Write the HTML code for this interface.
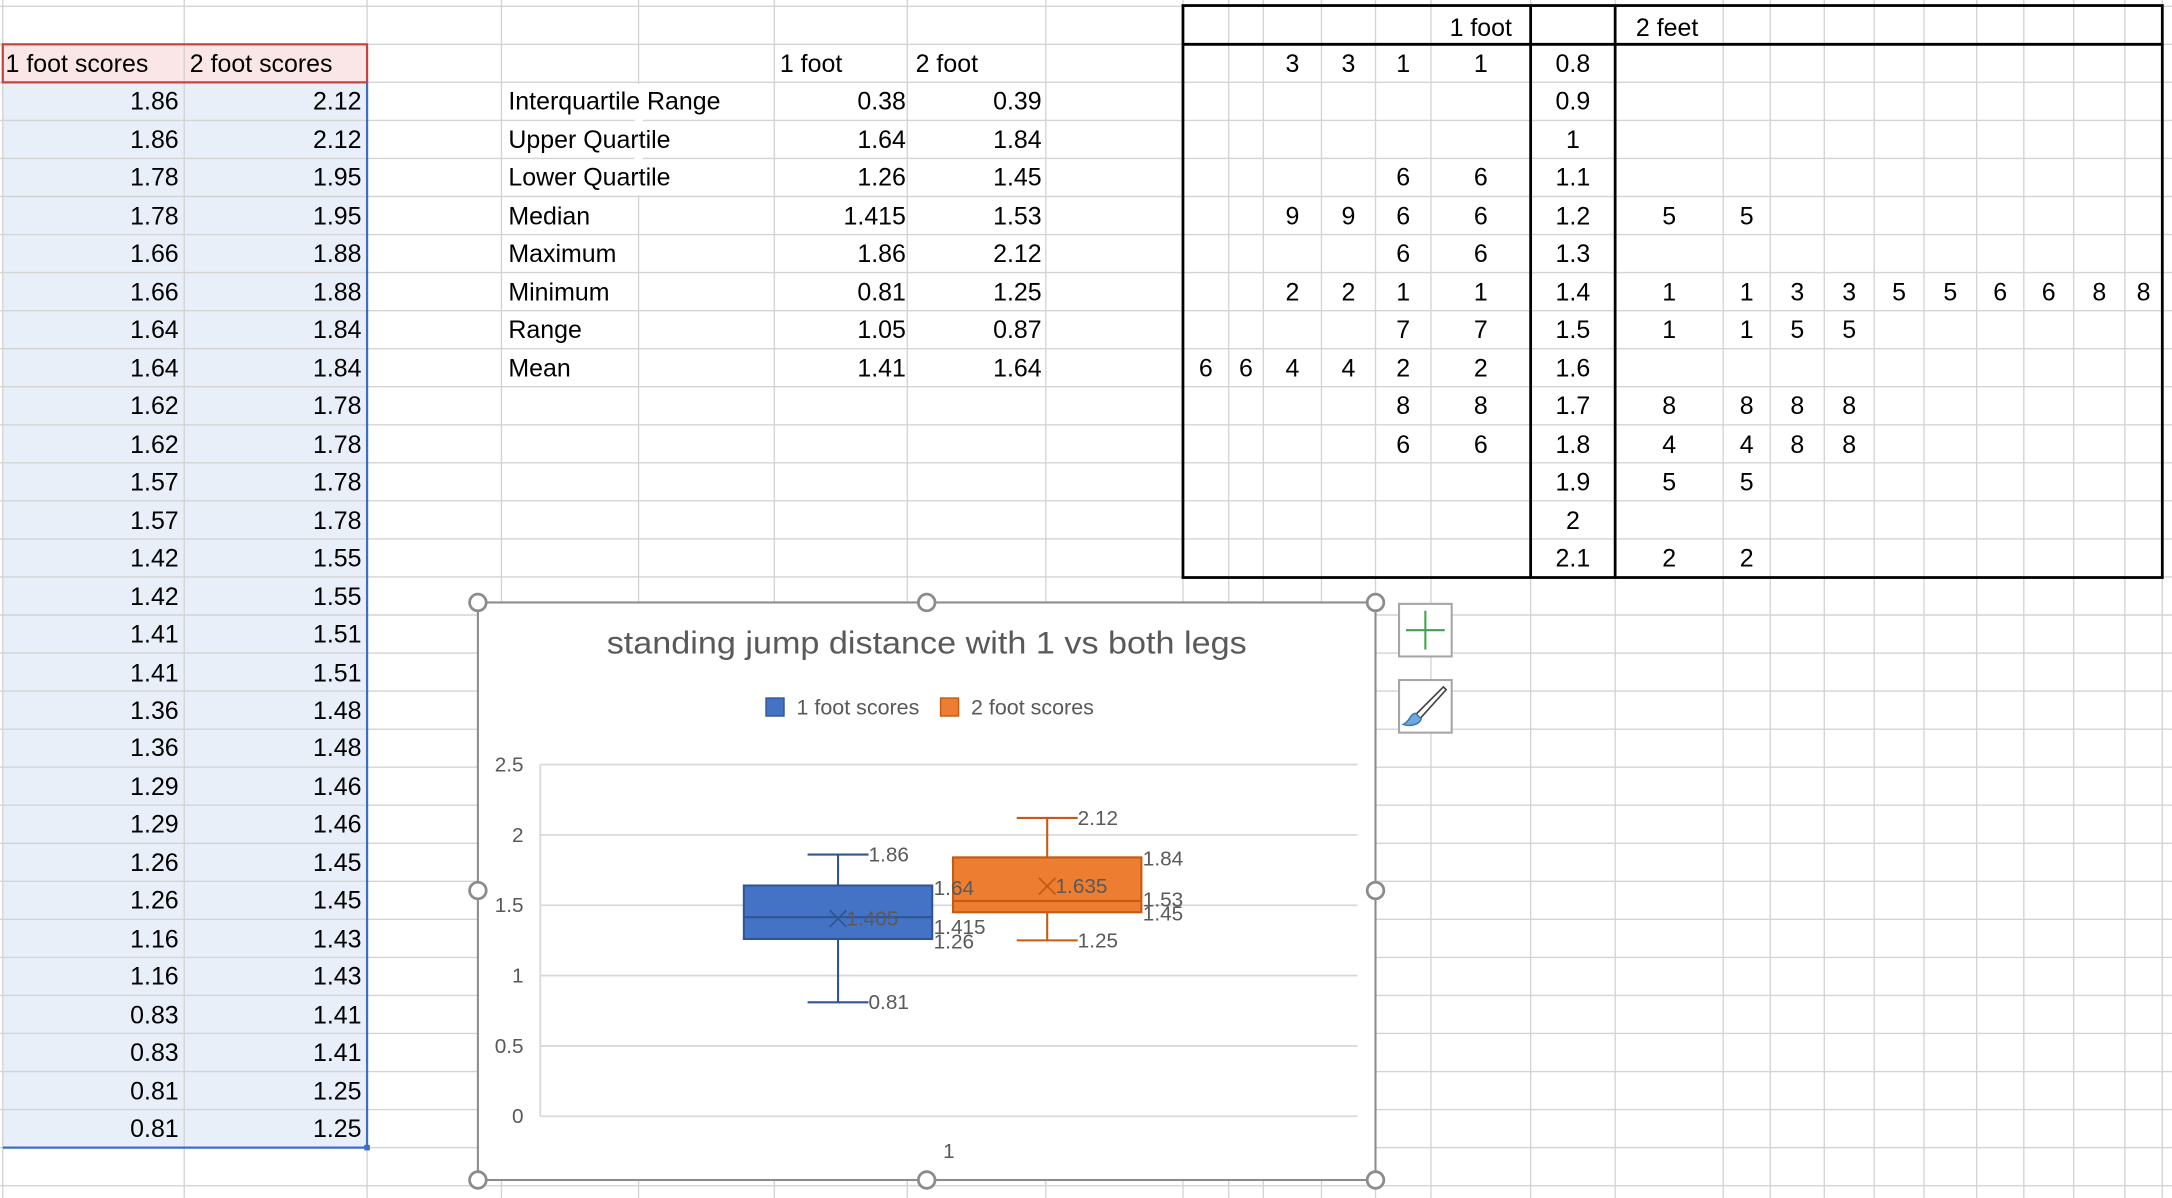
<!DOCTYPE html>
<html><head><meta charset="utf-8">
<style>
html,body{margin:0;padding:0;background:#fff;overflow:hidden;width:2172px;height:1198px}
#stage{position:absolute;left:0;top:0;width:1568px;height:865px;transform-origin:0 0;transform:scale(1.38520,1.38497);font-family:"Liberation Sans",sans-serif;font-size:18px;color:#000}
.t{position:absolute;white-space:nowrap;line-height:27px;height:27px}
.r{text-align:right}
.c{text-align:center}
svg text{font-family:"Liberation Sans",sans-serif}
</style></head>
<body>
<div id="stage">
<svg id="grid" width="1568" height="865" style="position:absolute;left:0;top:0"></svg>
<div id="cells"></div>
<svg id="chart" width="1568" height="865" style="position:absolute;left:0;top:0"></svg>
</div>
<script>
// ---- spreadsheet data ----
const oneFoot=[1.86,1.86,1.78,1.78,1.66,1.66,1.64,1.64,1.62,1.62,1.57,1.57,1.42,1.42,1.41,1.41,1.36,1.36,1.29,1.29,1.26,1.26,1.16,1.16,0.83,0.83,0.81,0.81];
const twoFoot=[2.12,2.12,1.95,1.95,1.88,1.88,1.84,1.84,1.78,1.78,1.78,1.78,1.55,1.55,1.51,1.51,1.48,1.48,1.46,1.46,1.45,1.45,1.43,1.43,1.41,1.41,1.25,1.25];
const statNames=["Interquartile Range","Upper Quartile","Lower Quartile","Median","Maximum","Minimum","Range","Mean"];
const stat1=["0.38","1.64","1.26","1.415","1.86","0.81","1.05","1.41"];
const stat2=["0.39","1.84","1.45","1.53","2.12","1.25","0.87","1.64"];
const stems=["0.8","0.9","1","1.1","1.2","1.3","1.4","1.5","1.6","1.7","1.8","1.9","2","2.1"];
const leaves1=[["","","3","3","1","1"],[],[],["","","","","6","6"],["","","9","9","6","6"],["","","","","6","6"],["","","2","2","1","1"],["","","","","7","7"],["6","6","4","4","2","2"],["","","","","8","8"],["","","","","6","6"],[],[],[]];
const leaves2=[[],[],[],[],["5","5"],[],["1","1","3","3","5","5","6","6","8","8"],["1","1","5","5"],[],["8","8","8","8"],["4","4","8","8"],["5","5"],[],["2","2"]];

const NS="http://www.w3.org/2000/svg";
const colX=[2,133,265,362,461,559,655,755,854,887,912,954,993,1033,1105,1166,1244,1278,1317,1353,1389,1427,1461,1497,1534,1561];
const rowH=27.47, row0=32;
function rowTop(k){return row0+rowH*k;}
const grid=document.getElementById('grid');
function sv(p,tag,a){const e=document.createElementNS(NS,tag);for(const k in a)e.setAttribute(k,a[k]);p.appendChild(e);return e;}
sv(grid,'rect',{x:2,y:rowTop(0),width:263,height:rowH,fill:'#FBE6E7'});
sv(grid,'rect',{x:2,y:rowTop(1),width:263,height:rowH*28,fill:'#E8EFF9'});
for(let k=-1;k<31;k++){const y=rowTop(k);sv(grid,'line',{x1:0,x2:1568,y1:y,y2:y,stroke:'#d4d4d4','stroke-width':1});}
colX.forEach(x=>sv(grid,'line',{x1:x,x2:x,y1:0,y2:865,stroke:'#d4d4d4','stroke-width':1}));
sv(grid,'rect',{x:458,y:rowTop(1)+1,width:6,height:rowH*3-2,fill:'#fff'});
sv(grid,'rect',{x:2,y:rowTop(0),width:263,height:rowH,fill:'none',stroke:'#C8423F','stroke-width':1.6});
sv(grid,'polyline',{points:`265,${rowTop(1)} 265,${rowTop(29)} 2,${rowTop(29)}`,fill:'none',stroke:'#3B6FC4','stroke-width':1.6});
sv(grid,'rect',{x:263,y:rowTop(29)-2,width:4,height:4,fill:'#3B6FC4'});
sv(grid,'rect',{x:854,y:4,width:707,height:413,fill:'none',stroke:'#000','stroke-width':2});
sv(grid,'line',{x1:854,x2:1561,y1:rowTop(0),y2:rowTop(0),stroke:'#000','stroke-width':2});
sv(grid,'line',{x1:1105,x2:1105,y1:4,y2:417,stroke:'#000','stroke-width':2});
sv(grid,'line',{x1:1166,x2:1166,y1:4,y2:417,stroke:'#000','stroke-width':2});

const cells=document.getElementById('cells');
function cell(txt,x,y,w,cls,name){const d=document.createElement('div');d.className='t '+cls;d.style.left=x+'px';d.style.top=(y+1)+'px';d.style.width=w+'px';d.textContent=txt;


cells.appendChild(d);}
cell('1 foot scores',4,rowTop(0),130,'', 'header-1-foot-scores');
cell('2 foot scores',137,rowTop(0),128,'', 'header-2-foot-scores');
oneFoot.forEach((v,i)=>cell(v.toFixed(2),2,rowTop(i+1),127,'r','one-foot-score-cell'));
twoFoot.forEach((v,i)=>cell(v.toFixed(2),133,rowTop(i+1),128,'r','two-foot-score-cell'));
cell('1 foot',563,rowTop(0),90,'','stats-header-1-foot');
cell('2 foot',661,rowTop(0),90,'','stats-header-2-foot');
statNames.forEach((n,i)=>{cell(n,367,rowTop(i+1),190,'','stat-label');cell(stat1[i],559,rowTop(i+1),95,'r','stat-1-foot-value');cell(stat2[i],655,rowTop(i+1),97,'r','stat-2-foot-value');});
cell('1 foot',1033,rowTop(-1)+1,72,'c','stem-header-1-foot');
cell('2 feet',1181,rowTop(-1)+1,80,'','stem-header-2-feet');
const lcols=[854,887,912,954,993,1033,1105];
const rcols=[1166,1244,1278,1317,1353,1389,1427,1461,1497,1534,1561];
stems.forEach((s,i)=>{
  cell(s,1105,rowTop(i),61,'c','stem-value');
  leaves1[i].forEach((l,j)=>{if(l)cell(l,lcols[j],rowTop(i),lcols[j+1]-lcols[j],'c','leaf-1-foot');});
  leaves2[i].forEach((l,j)=>{if(l)cell(l,rcols[j],rowTop(i),rcols[j+1]-rcols[j],'c','leaf-2-feet');});
});

// ---- chart data ----
const seriesNames=["1 foot scores","2 foot scores"];
const seriesColors=["#4472C4","#ED7D31"];
const seriesStroke=["#2F5597","#C55A11"];
const minVals=[0.81,1.25];
const q1Vals=[1.26,1.45];
const medVals=[1.415,1.53];
const q3Vals=[1.64,1.84];
const maxVals=[1.86,2.12];
const meanVals=[1.405,1.635];
const yTicks=[0,0.5,1,1.5,2,2.5];
const yTickLabels=["0","0.5","1","1.5","2","2.5"];
const category="1";

const ch=document.getElementById('chart');
const PX0=390,PX1=980,PY0=806,PY1=552,YMAX=2.5;
function y(v){return PY0-(v/YMAX)*(PY0-PY1);}
function txt(p,s,x,yy,a){const t=sv(p,'text',Object.assign({x:x,y:yy,fill:'#595959','font-size':15},a||{}));t.textContent=s;return t;}
const frame=sv(ch,'rect',{x:345,y:435,width:648,height:417,fill:'#fff',stroke:'#8c8c8c','stroke-width':1.5});


const title=txt(ch,'standing jump distance with 1 vs both legs',669,472,{'font-size':23,'text-anchor':'middle',textLength:462,lengthAdjust:'spacingAndGlyphs'});


const legX=[553,679];
seriesNames.forEach((n,i)=>{
  const g=sv(ch,'g',{});
  
  
  sv(g,'rect',{x:legX[i],y:504,width:13,height:13,fill:seriesColors[i],stroke:seriesStroke[i],'stroke-width':1});
  txt(g,n,legX[i]+22,516,{'font-size':15.5});
});
yTicks.forEach((v,i)=>{
  const l=sv(ch,'line',{x1:PX0,x2:PX1,y1:y(v),y2:y(v),stroke:'#d9d9d9','stroke-width':1.3});
  
  
  const t=txt(ch,yTickLabels[i],378,y(v)+5,{'text-anchor':'end'});
  
  
});
sv(ch,'line',{x1:PX0,x2:PX0,y1:PY1,y2:PY0,stroke:'#d9d9d9','stroke-width':1.3});
const cat=txt(ch,category,685,836,{'text-anchor':'middle'});


const boxL=[537,688], boxW=136;
const labelLayer=[];
seriesNames.forEach((n,i)=>{
  const g=sv(ch,'g',{});
  
  
  const cx=boxL[i]+boxW/2, st=seriesStroke[i];
  sv(g,'line',{x1:cx,x2:cx,y1:y(maxVals[i]),y2:y(q3Vals[i]),stroke:st,'stroke-width':1.5});
  sv(g,'line',{x1:cx,x2:cx,y1:y(q1Vals[i]),y2:y(minVals[i]),stroke:st,'stroke-width':1.5});
  sv(g,'line',{x1:cx-22,x2:cx+22,y1:y(maxVals[i]),y2:y(maxVals[i]),stroke:st,'stroke-width':1.5});
  sv(g,'line',{x1:cx-22,x2:cx+22,y1:y(minVals[i]),y2:y(minVals[i]),stroke:st,'stroke-width':1.5});
  sv(g,'rect',{x:boxL[i],y:y(q3Vals[i]),width:boxW,height:y(q1Vals[i])-y(q3Vals[i]),fill:seriesColors[i],stroke:st,'stroke-width':1.5});
  sv(g,'line',{x1:boxL[i],x2:boxL[i]+boxW,y1:y(medVals[i]),y2:y(medVals[i]),stroke:st,'stroke-width':1.5});
  const my=y(meanVals[i]);
  sv(g,'path',{d:`M${cx-6} ${my-6}L${cx+6} ${my+6}M${cx+6} ${my-6}L${cx-6} ${my+6}`,stroke:st,'stroke-width':1.3,fill:'none'});
  labelLayer.push(i);
});
const lg=sv(ch,'g',{});


labelLayer.forEach(i=>{
  const cx=boxL[i]+boxW/2, my=y(meanVals[i]);
  txt(lg,String(meanVals[i]),cx+6,my+5);
  txt(lg,String(maxVals[i]),cx+22,y(maxVals[i])+5);
  txt(lg,String(minVals[i]),cx+22,y(minVals[i])+5);
  const rx=boxL[i]+boxW+1;
  txt(lg,String(q3Vals[i]),rx,y(q3Vals[i])+(i==0?7:6));
  txt(lg,String(medVals[i]),rx,y(medVals[i])+(i==0?12:4));
  txt(lg,String(q1Vals[i]),rx,y(q1Vals[i])+(i==0?7:6));
});
[[345,435],[669,435],[993,435],[345,643],[993,643],[345,852],[669,852],[993,852]].forEach(p=>{
  const c=sv(ch,'circle',{cx:p[0],cy:p[1],r:6,fill:'#fff',stroke:'#8c8c8c','stroke-width':2});
  
  
});
const b1=sv(ch,'g',{});


sv(b1,'rect',{x:1010,y:436,width:38,height:38,fill:'#fff',stroke:'#a6a6a6','stroke-width':1.5});
sv(b1,'path',{d:'M1015 455H1043M1029 441V469',stroke:'#3FA34D','stroke-width':1.5});
const b2=sv(ch,'g',{});


sv(b2,'rect',{x:1010,y:491,width:38,height:38,fill:'#fff',stroke:'#a6a6a6','stroke-width':1.5});
sv(b2,'path',{d:'M1022 516L1042 496L1044 498L1025 519Z',fill:'#fff',stroke:'#444','stroke-width':1.2});
sv(b2,'path',{d:'M1022 515C1018 515 1018 521 1013 523C1018 525 1025 523 1026 519Z',fill:'#6FA8DC',stroke:'#2E75B6','stroke-width':1});
</script>
</body></html>
